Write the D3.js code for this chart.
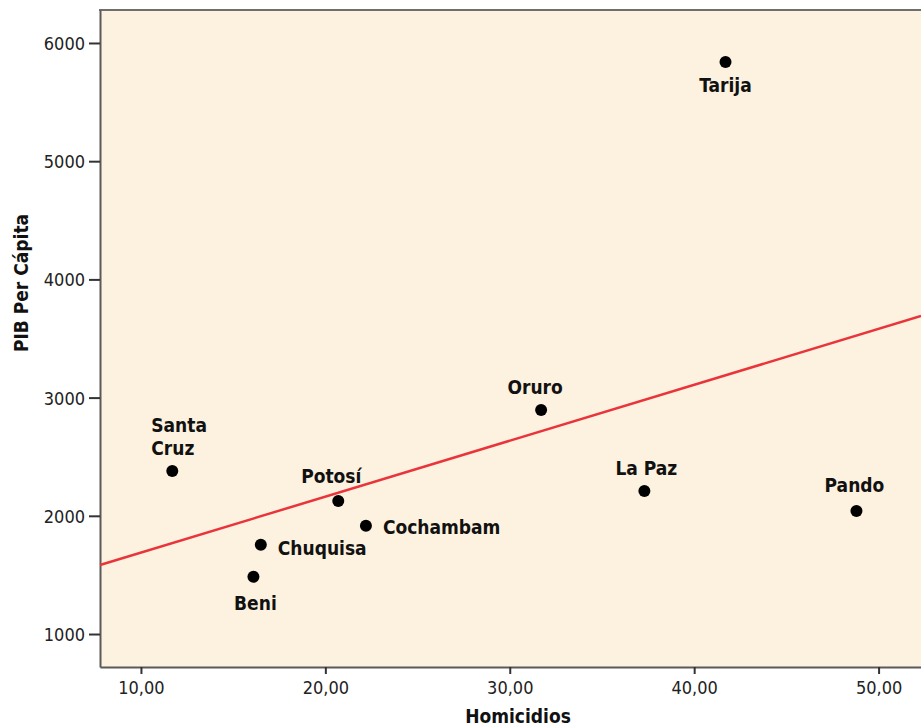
<!DOCTYPE html>
<html>
<head>
<meta charset="utf-8">
<script src="https://cdn.jsdelivr.net/npm/d3@7"></script>
<style>
  body { margin: 0; background: #fff; }
  svg { display: block; }
  .tick text { font-family: "DejaVu Sans", sans-serif; font-stretch: condensed; font-size: 18px; fill: #222; }
  .lbl { font-family: "DejaVu Sans", sans-serif; font-stretch: condensed; font-size: 19px; font-weight: bold; fill: #111; }
  .title { font-family: "DejaVu Sans", sans-serif; font-stretch: condensed; font-size: 19px; font-weight: bold; fill: #111; }
</style>
</head>
<body>
<svg></svg>
<script>
// departamentos de Bolivia
var names = ['Tarija', 'Oruro', 'La Paz', 'Pando', 'Santa Cruz', 'Potosí', 'Cochambam', 'Chuquisa', 'Beni'];
var homicidios = [41.7, 31.7, 37.3, 48.8, 11.7, 20.7, 22.2, 16.5, 16.1];
var pib = [5840, 2895, 2210, 2040, 2380, 2125, 1915, 1755, 1485];

var xTicks = [10, 20, 30, 40, 50];
var yTicks = [1000, 2000, 3000, 4000, 5000, 6000];

// recta de regresion
var fitIntercept = 1216;
var fitSlope = 47.3;

// donde va cada etiqueta respecto a su punto
var labelPos = {
  'Tarija':     { dx: 0,   dy: [30],       anchor: 'middle' },
  'Oruro':      { dx: -6,  dy: [-16],      anchor: 'middle' },
  'La Paz':     { dx: 2,   dy: [-16],      anchor: 'middle' },
  'Pando':      { dx: -2,  dy: [-19],      anchor: 'middle' },
  'Santa Cruz': { dx: -21, dy: [-39, -16], anchor: 'start' },
  'Potosí':     { dx: -7,  dy: [-18],      anchor: 'middle' },
  'Cochambam':  { dx: 17,  dy: [8],        anchor: 'start' },
  'Chuquisa':   { dx: 17,  dy: [10],       anchor: 'start' },
  'Beni':       { dx: 2,   dy: [33],       anchor: 'middle' }
};

var width = 921;
var height = 728;
var plotLeft = 100, plotTop = 10, plotRight = 921, plotBottom = 667;

var points = names.map((n, i) => ({ name: n, x: homicidios[i], y: pib[i] }));

var x = d3.scaleLinear()
  .domain([7.78, 52.3])
  .range([plotLeft, plotRight]);

var y = d3.scaleLinear()
  .domain([721, 6279])
  .range([plotBottom, plotTop]);

var svg = d3.select('svg')
  .attr('width', width)
  .attr('height', height);

svg.append('rect')
  .attr('x', plotLeft)
  .attr('y', plotTop)
  .attr('width', plotRight - plotLeft)
  .attr('height', plotBottom - plotTop)
  .attr('fill', '#fdf1df');

// borde superior
svg.append('line')
  .attr('x1', plotLeft - 1).attr('x2', plotRight)
  .attr('y1', plotTop).attr('y2', plotTop)
  .attr('stroke', '#6e6e6e')
  .attr('stroke-width', 2);

var xAxis = svg.append('g')
  .attr('transform', 'translate(0,' + plotBottom + ')')
  .call(d3.axisBottom(x)
    .tickValues(xTicks)
    .tickSizeInner(7)
    .tickSizeOuter(0)
    .tickPadding(5)
    .tickFormat(d => d3.format('.2f')(d).replace('.', ',')));

var yAxis = svg.append('g')
  .attr('transform', 'translate(' + plotLeft + ',0)')
  .call(d3.axisLeft(y)
    .tickValues(yTicks)
    .tickSizeInner(11)
    .tickSizeOuter(0)
    .tickPadding(4)
    .tickFormat(d3.format('d')));

[xAxis, yAxis].forEach(g => {
  g.select('.domain').attr('stroke', '#5a5a5a').attr('stroke-width', 2);
  g.selectAll('.tick line').attr('stroke', '#333').attr('stroke-width', 2);
});

xAxis.selectAll('.tick text').attr('dy', '0.85em');
yAxis.selectAll('.tick text').attr('dy', '0.36em');

// recta de ajuste
svg.append('line')
  .attr('x1', x(x.domain()[0]))
  .attr('y1', y(fitIntercept + fitSlope * x.domain()[0]))
  .attr('x2', x(x.domain()[1]))
  .attr('y2', y(fitIntercept + fitSlope * x.domain()[1]))
  .attr('stroke', '#e8343a')
  .attr('stroke-width', 2.5);

svg.selectAll('.dot')
  .data(points)
  .enter()
  .append('circle')
  .classed('dot', true)
  .attr('cx', d => x(d.x))
  .attr('cy', d => y(d.y))
  .attr('r', 6)
  .attr('fill', '#000');

svg.selectAll('.lbl')
  .data(points)
  .enter()
  .append('text')
  .classed('lbl', true)
  .attr('text-anchor', d => labelPos[d.name].anchor)
  .each(function(d) {
    var p = labelPos[d.name];
    var words = p.dy.length > 1 ? d.name.split(' ') : [d.name];
    var t = d3.select(this);
    words.forEach((w, i) => {
      t.append('tspan')
        .attr('x', x(d.x) + p.dx)
        .attr('y', y(d.y) + p.dy[i])
        .text(w);
    });
  });

svg.append('text')
  .classed('title', true)
  .attr('x', 518)
  .attr('y', 723)
  .attr('text-anchor', 'middle')
  .text('Homicidios');

svg.append('text')
  .classed('title', true)
  .attr('transform', 'translate(28,283) rotate(-90)')
  .attr('text-anchor', 'middle')
  .text('PIB Per Cápita');
</script>
</body>
</html>
